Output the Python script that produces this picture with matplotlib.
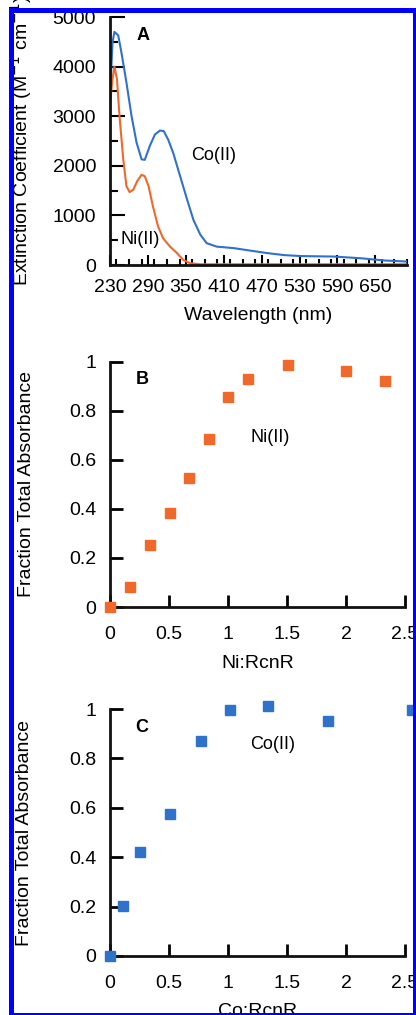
import matplotlib
matplotlib.use('Agg')
import matplotlib.pyplot as plt
from matplotlib.patches import Rectangle
from matplotlib.ticker import MultipleLocator

plt.rcParams['font.family'] = ['Liberation Sans', 'DejaVu Sans']

# Panel A: UV-vis spectra
co_wl = [230, 234, 237, 243, 248, 256, 264, 272, 280, 285, 293, 301, 309, 315, 322, 330,
         341, 352, 362, 373, 383, 399, 426, 452, 479, 505, 532, 585, 628, 665, 700]
co_eps = [3400, 4490, 4700, 4630, 4290, 3680, 3010, 2470, 2130, 2120, 2400, 2630, 2710, 2700,
          2530, 2260, 1790, 1320, 910, 610, 440, 370, 340, 290, 240, 200, 180, 170, 135, 90, 70]
ni_wl = [230, 234, 237, 241, 245, 251, 256, 261, 267, 273, 280, 285, 291, 298, 306, 314,
         325, 336, 346, 357, 373, 426, 700]
ni_eps = [3250, 3750, 4000, 3750, 3010, 2130, 1590, 1470, 1520, 1690, 1820, 1790, 1590, 1180,
          780, 540, 370, 240, 100, 35, 15, 15, 15]

# Panel B: Ni titration
ni_ratio = [0, 0.17, 0.34, 0.51, 0.67, 0.84, 1.0, 1.17, 1.51, 2.0, 2.33]
ni_frac = [0, 0.082, 0.252, 0.384, 0.528, 0.687, 0.857, 0.929, 0.986, 0.962, 0.921]

# Panel C: Co titration
co_ratio = [0, 0.11, 0.25, 0.51, 0.77, 1.02, 1.34, 1.85, 2.56]
co_frac = [0, 0.204, 0.42, 0.576, 0.869, 0.997, 1.014, 0.953, 0.997]

wl_ticks = [230, 290, 350, 410, 470, 530, 590, 650]

blue = '#2f72cc'
orange = '#f0692a'
fs = 14

fig = plt.figure(figsize=(4.16, 10.15), dpi=100)
W, H = 416, 1015


def make_ax(left, right, top, bottom):
    return fig.add_axes([left / W, 1 - bottom / H, (right - left) / W, (bottom - top) / H])


def style(ax):
    for s in ['top', 'right']:
        ax.spines[s].set_visible(False)
    for s in ['left', 'bottom']:
        ax.spines[s].set_linewidth(2.0)
        ax.spines[s].set_color('#111111')


# ---- A ----
axA = make_ax(110, 407, 17, 265)
style(axA)
axA.plot(co_wl, co_eps, color=blue, lw=1.5)
axA.plot(ni_wl, ni_eps, color=orange, lw=1.5)
axA.set_xlim(230, 700)
axA.set_ylim(0, 5000)
axA.set_xticks(wl_ticks)
axA.xaxis.set_minor_locator(MultipleLocator(20))
axA.yaxis.set_major_locator(MultipleLocator(1000))
axA.yaxis.set_minor_locator(MultipleLocator(500))
axA.tick_params(axis='x', which='major', direction='in', length=7.5, width=1.5, pad=10, labelsize=fs)
axA.tick_params(axis='x', which='minor', direction='in', length=4.5, width=1.5)
axA.tick_params(axis='y', which='major', direction='in', length=10.5, width=1.5, pad=10, labelsize=fs)
axA.tick_params(axis='y', which='minor', direction='in', length=6, width=1.5)
axA.set_xlabel('Wavelength (nm)', fontsize=fs)
axA.set_ylabel('Extinction Coefficient (M$^{-1}$ cm$^{-1}$)', fontsize=fs)
axA.xaxis.set_label_coords(0.5, -0.17)
axA.yaxis.set_label_coords(-0.255, 0.5)
axA.text(0.11, 0.927, 'A', transform=axA.transAxes, fontsize=13, fontweight='bold',
         ha='center', va='center')
axA.text(394, 2200, 'Co(II)', fontsize=13, ha='center', va='center')
axA.text(277, 507, 'Ni(II)', fontsize=13, ha='center', va='center')

# ---- B ----
axB = make_ax(110, 405, 362, 607)
style(axB)
axB.plot(ni_ratio, ni_frac, 's', color=orange, ms=7, clip_on=False, zorder=5)
axB.set_xlim(0, 2.5)
axB.set_ylim(0, 1)
axB.set_xticks([0, 0.5, 1, 1.5, 2, 2.5])
axB.set_xticklabels(['0', '0.5', '1', '1.5', '2', '2.5'])
axB.set_yticks([0, 0.2, 0.4, 0.6, 0.8, 1])
axB.set_yticklabels(['0', '0.2', '0.4', '0.6', '0.8', '1'])
axB.tick_params(axis='x', direction='in', length=9, width=2, pad=14, labelsize=fs)
axB.tick_params(axis='y', direction='in', length=9, width=2, pad=10, labelsize=fs)
axB.set_xlabel('Ni:RcnR', fontsize=fs)
axB.set_ylabel('Fraction Total Absorbance', fontsize=fs)
axB.xaxis.set_label_coords(0.5, -0.195)
axB.yaxis.set_label_coords(-0.255, 0.5)
axB.text(0.108, 0.927, 'B', transform=axB.transAxes, fontsize=13, fontweight='bold',
         ha='center', va='center')
axB.text(1.356, 0.691, 'Ni(II)', fontsize=13, ha='center', va='center')

# ---- C ----
axC = make_ax(110, 405, 709, 956)
style(axC)
axC.plot(co_ratio, co_frac, 's', color=blue, ms=7, clip_on=False, zorder=5)
axC.set_xlim(0, 2.5)
axC.set_ylim(0, 1)
axC.set_xticks([0, 0.5, 1, 1.5, 2, 2.5])
axC.set_xticklabels(['0', '0.5', '1', '1.5', '2', '2.5'])
axC.set_yticks([0, 0.2, 0.4, 0.6, 0.8, 1])
axC.set_yticklabels(['0', '0.2', '0.4', '0.6', '0.8', '1'])
axC.tick_params(axis='x', direction='in', length=9, width=2, pad=14, labelsize=fs)
axC.tick_params(axis='y', direction='in', length=9, width=2, pad=10, labelsize=fs)
axC.set_xlabel('Co:RcnR', fontsize=fs)
axC.set_ylabel('Fraction Total Absorbance', fontsize=fs)
axC.xaxis.set_label_coords(0.5, -0.19)
axC.yaxis.set_label_coords(-0.262, 0.5)
axC.text(0.108, 0.927, 'C', transform=axC.transAxes, fontsize=13, fontweight='bold',
         ha='center', va='center')
axC.text(1.376, 0.855, 'Co(II)', fontsize=13, ha='center', va='center')

# blue frame around the figure
frame = Rectangle((10.5 / W, 1 - 1015.5 / H), 404 / W, 1005 / H, transform=fig.transFigure,
                  fill=False, edgecolor='#0000ff', linewidth=3.6, clip_on=False, zorder=20)
fig.add_artist(frame)

fig.savefig('out.png', dpi=100)
